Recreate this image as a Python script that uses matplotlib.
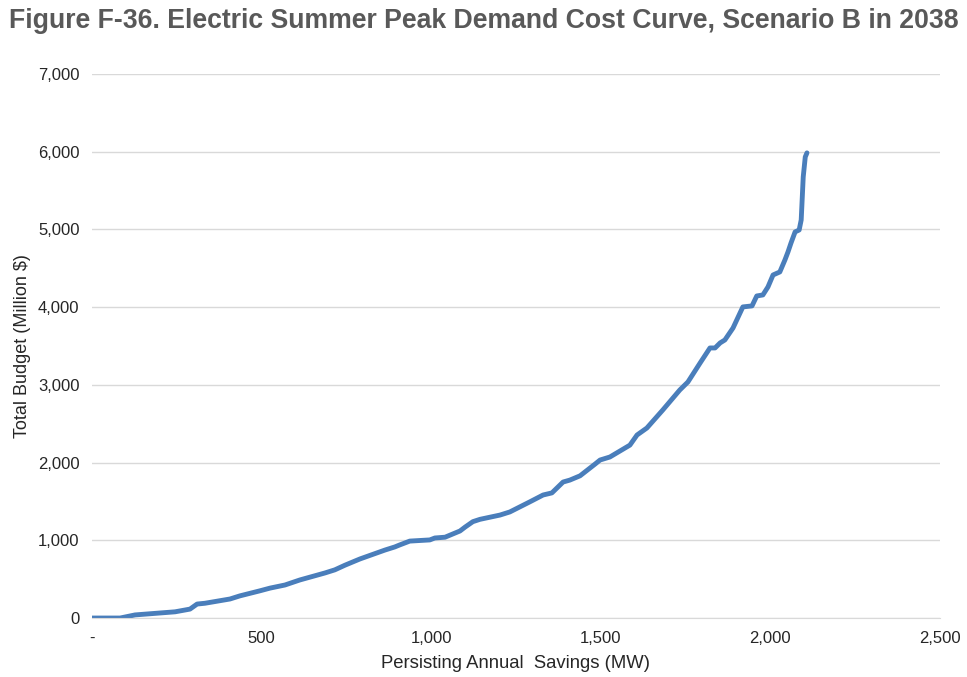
import matplotlib.pyplot as plt
from matplotlib.ticker import FuncFormatter

plt.rcParams['font.family'] = ['Liberation Sans', 'DejaVu Sans']

# Cost curve (MW, million $)
savings = [0, 83, 127, 245, 289, 310, 333, 407, 436, 495, 525, 569, 613, 687, 716,
           746, 790, 864, 893, 907, 937, 996, 1011, 1041, 1085, 1100, 1123, 1144, 1203,
           1232, 1291, 1330, 1356, 1389, 1409, 1439, 1483, 1498, 1527, 1586, 1607, 1636,
           1683, 1733, 1757, 1793, 1822, 1837, 1852, 1866, 1890, 1919, 1946, 1960, 1978,
           1993, 2008, 2028, 2043, 2052, 2061, 2073, 2085, 2091, 2097, 2103, 2108]
budget = [0, 0, 40, 80, 115, 180, 190, 245, 285, 350, 385, 425, 490, 580, 620,
          680, 760, 875, 915, 940, 990, 1005, 1030, 1040, 1120, 1170, 1240, 1270, 1325,
          1365, 1495, 1583, 1610, 1750, 1775, 1830, 1980, 2033, 2072, 2225, 2355, 2445,
          2677, 2934, 3037, 3282, 3475, 3475, 3540, 3578, 3732, 4003, 4016, 4144, 4157,
          4260, 4414, 4453, 4607, 4710, 4826, 4968, 4993, 5122, 5676, 5933, 5985]

x_ticks = [0, 500, 1000, 1500, 2000, 2500]
y_ticks = [0, 1000, 2000, 3000, 4000, 5000, 6000, 7000]

fig = plt.figure(figsize=(9.67, 6.77), dpi=100)
ax = fig.add_axes([0.0951, 0.0871, 0.972 - 0.0951, 0.8907 - 0.0871])

ax.plot(savings, budget, color='#4a7ebb', linewidth=3.5, solid_capstyle='round')

ax.set_xlim(0, 2500)
ax.set_ylim(0, 7000)
ax.set_xticks(x_ticks)
ax.set_yticks(y_ticks)
ax.xaxis.set_major_formatter(FuncFormatter(lambda v, p: '-' if v == 0 else f'{int(v):,}'))
ax.yaxis.set_major_formatter(FuncFormatter(lambda v, p: f'{int(v):,}'))
ax.grid(axis='y', color='#d9d9d9', linewidth=1)
ax.set_axisbelow(True)
for s in ['top', 'right', 'left']:
    ax.spines[s].set_visible(False)
ax.spines['bottom'].set_color('#d9d9d9')
ax.tick_params(length=0, labelsize=12, colors='#262626', pad=9)
ax.tick_params(axis='x', pad=9)

ax.set_xlabel('Persisting Annual  Savings (MW)', fontsize=13.3, color='#262626', labelpad=7)
ax.set_ylabel('Total Budget (Million $)', fontsize=13, color='#262626', labelpad=5)

fig.text(0.5, 0.969, 'Figure F-36. Electric Summer Peak Demand Cost Curve, Scenario B in 2038',
         ha='center', va='center', fontsize=19.2, fontweight='bold', color='#595959')

fig.savefig('out.png', dpi=100)
